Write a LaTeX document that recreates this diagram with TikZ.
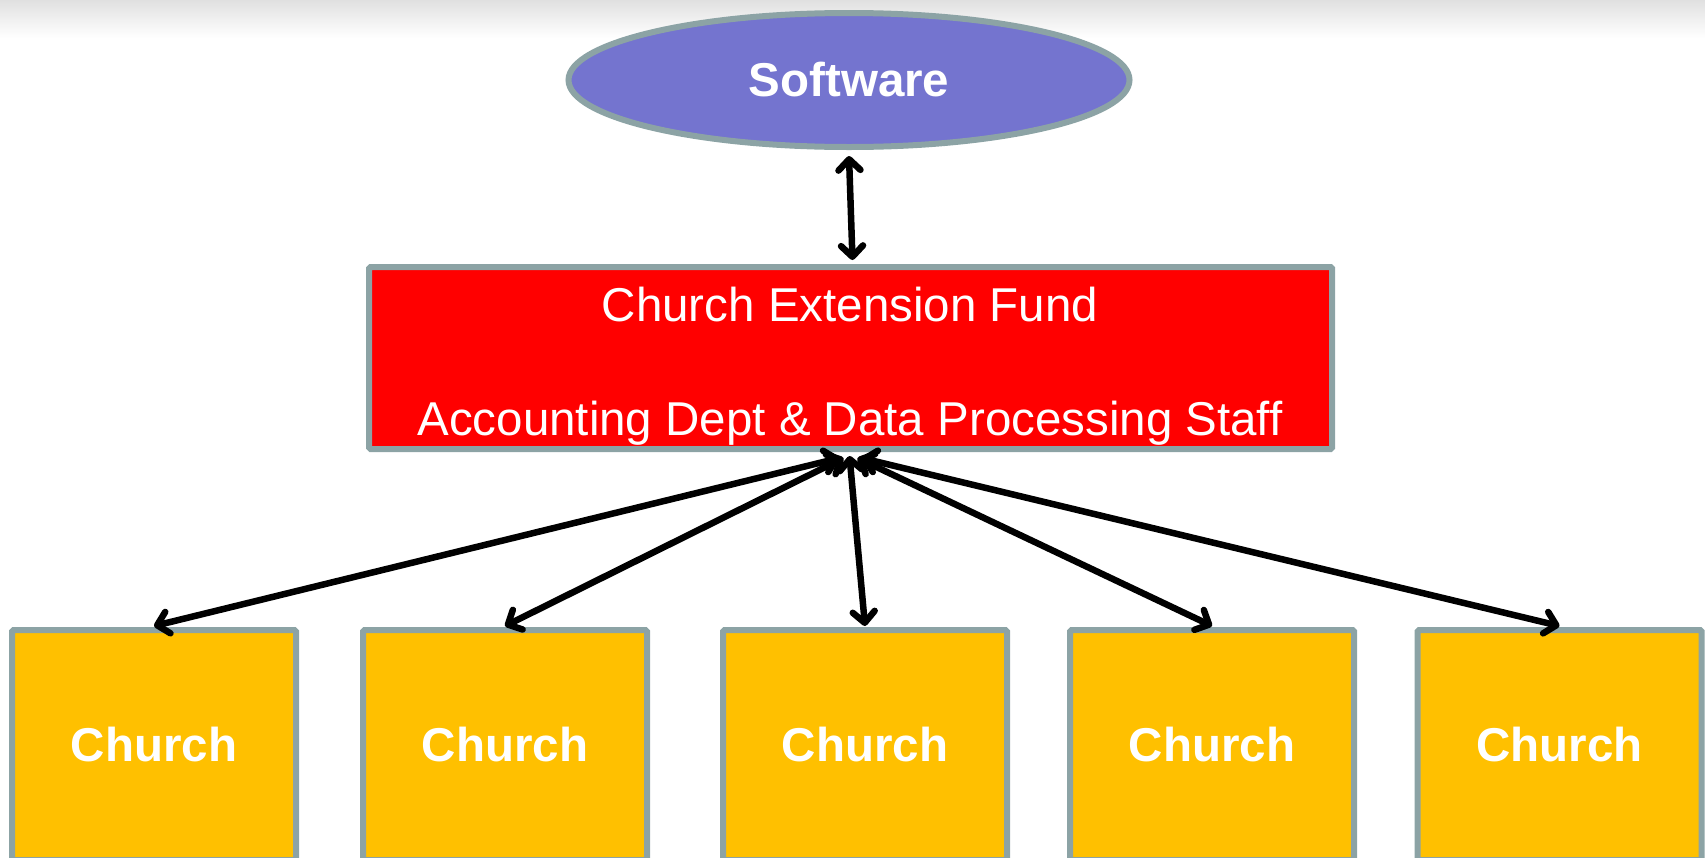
\documentclass[tikz,border=0pt]{standalone}
\usepackage{fontspec}
\setmainfont{Liberation Sans}
\usetikzlibrary{shapes.geometric,arrows.meta}
\definecolor{bordergray}{HTML}{8CA3A5}
\definecolor{softblue}{HTML}{7474CF}
\definecolor{churchyellow}{HTML}{FFC000}
\definecolor{cefred}{HTML}{FF0000}
\tikzset{
  box/.style={draw=bordergray, line width=6pt, rounded corners=1.5pt, inner sep=0pt, font=\fontsize{47.5}{57}\selectfont},
  churchbox/.style={box, fill=churchyellow, minimum width=284pt, minimum height=230pt, text=white, font=\fontsize{47.5}{57}\selectfont\bfseries},
  conn/.style={black, line width=6.5pt, line cap=round,
    {Straight Barb[length=11pt,width=22pt,line cap=round,line join=round]}-{Straight Barb[length=11pt,width=22pt,line cap=round,line join=round]}},
  wtext/.style={text=white, inner sep=0pt, font=\fontsize{47.5}{57}\selectfont}
}
\begin{document}
\begin{tikzpicture}[x=1pt,y=-1pt]
\useasboundingbox (0,0) rectangle (1705,857);
\shade[top color=black!12, bottom color=white] (0,0) rectangle (1705,38);
% Software
\node[ellipse, draw=bordergray, line width=6pt, fill=softblue, minimum width=561pt, minimum height=134pt, inner sep=0pt, text=white, font=\fontsize{47.5}{57}\selectfont\bfseries] (sw) at (849,80) {Software};
% CEF box
\node[box, fill=cefred, minimum width=963pt, minimum height=182pt] (cef) at (850.5,358) {};
\node[wtext, anchor=base] (cef1) at (850,321) {Church Extension Fund};
\node[wtext, anchor=base] (cef2) at (850,435) {Accounting Dept \& Data Processing Staff};
% Churches
\node[churchbox] (c1) at (154,745) {Church};
\node[churchbox] (c2) at (505,745) {Church};
\node[churchbox] (c3) at (865,745) {Church};
\node[churchbox] (c4) at (1212,745) {Church};
\node[churchbox] (c5) at (1559.5,745) {Church};
% hub coordinates
\coordinate (h1) at ([xshift=-11pt,yshift=-6pt]cef.south);
\coordinate (h2) at ([xshift=-7pt,yshift=-6pt]cef.south);
\coordinate (h3) at ([xshift=-1pt,yshift=-4pt]cef.south);
\coordinate (h4) at ([xshift=7pt,yshift=-6pt]cef.south);
\coordinate (h5) at ([xshift=11pt,yshift=-6pt]cef.south);
\coordinate (t1) at ([yshift=1pt]c1.north);
\coordinate (t2) at ([yshift=1pt]c2.north);
\coordinate (t3) at ([yshift=1pt]c3.north);
\coordinate (t4) at ([yshift=1pt]c4.north);
\coordinate (t5) at ([yshift=1pt]c5.north);
\coordinate (swb) at ([yshift=-6pt]sw.south);
\coordinate (cft) at ([xshift=2pt,yshift=4pt]cef.north);
% connectors
\draw[conn] (swb) -- (cft);
\draw[conn] (h1) -- (t1);
\draw[conn] (h2) -- (t2);
\draw[conn] (h3) -- (t3);
\draw[conn] (h4) -- (t4);
\draw[conn] (h5) -- (t5);
\end{tikzpicture}
\end{document}
